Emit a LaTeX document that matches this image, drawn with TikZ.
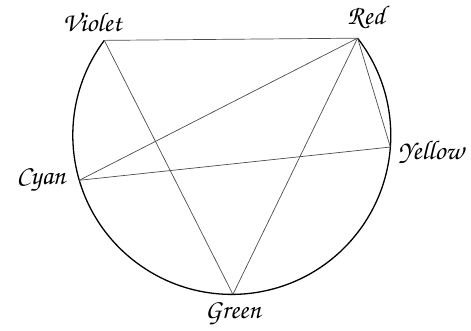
\documentclass[tikz,border=0pt]{standalone}
\usepackage[T1]{fontenc}
\usetikzlibrary{calc}
\begin{document}
\begin{tikzpicture}[x=1pt,y=1pt,
  chord/.style={draw=black!70,line width=0.7pt},
  rim/.style={draw=black,line width=1.3pt},
  lab/.style={font=\fontfamily{pzc}\fontsize{27}{30}\selectfont,inner sep=0pt}]
\useasboundingbox (0,0) rectangle (471,331);
\coordinate (C) at (231.8,195.6);
\def\R{159}
\coordinate (V) at ($(C)+(143.3:\R)$);
\coordinate (Rd) at ($(C)+(37.7:\R)$);
\coordinate (Cy) at ($(C)+(196.4:\R)$);
\coordinate (G) at ($(C)+(270.4:\R)$);
\coordinate (Y) at ($(C)+(355.8:\R)$);
\draw[rim] (V) arc[start angle=143.3, end angle=397.7, radius=\R];
\draw[chord] (V) -- (Rd);
\draw[chord] (V) -- (G);
\draw[chord] (Cy) -- (Rd);
\draw[chord] (Cy) -- (Y);
\draw[chord] (Rd) -- (G);
\draw[chord] (Rd) -- (Y);
\node[lab] (lv) at (92,309) {Violet};
\node[lab] (lr) at (366,314) {Red};
\node[lab] (ly) at (431,179) {Yellow};
\node[lab] (lc) at (41,151) {Cyan};
\node[lab] (lg) at (233,18) {Green};
\end{tikzpicture}
\end{document}
